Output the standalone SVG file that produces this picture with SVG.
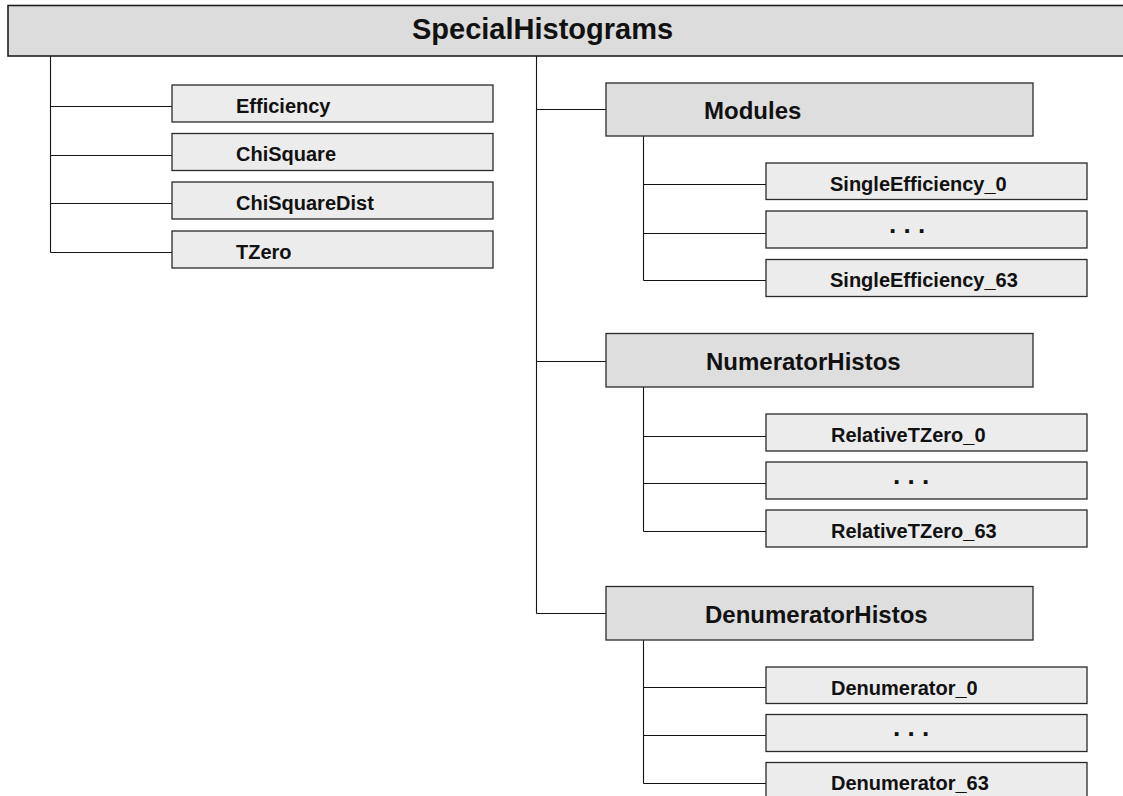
<svg xmlns="http://www.w3.org/2000/svg" width="1123" height="796" viewBox="0 0 1123 796">
  <style>
    .root { fill: #dcdcdc; stroke: #1e1e1e; stroke-width: 1.6; }
    .group { fill: #dedede; stroke: #2a2a2a; stroke-width: 1.3; }
    .leaf { fill: #ececec; stroke: #2a2a2a; stroke-width: 1.3; }
    text { font-family: "Liberation Sans", Arial, sans-serif; font-weight: bold; fill: #111; }
    .t-root { font-size: 29px; }
    .t-group { font-size: 24px; }
    .t-leaf { font-size: 20px; }
    .t-dots { font-size: 26px; }
    .wire { fill: none; stroke: #141414; stroke-width: 1.1; }
  </style>

  <rect width="1123" height="796" fill="#ffffff"/>

  <!-- connectors -->
  <g id="connectors" class="wire">
    <!-- root trunk to the left leaves -->
    <path d="M50.5 56 V252.5"/>
    <path d="M50.5 106.5 H172"/>
    <path d="M50.5 155.5 H172"/>
    <path d="M50.5 203.5 H172"/>
    <path d="M50.5 252.5 H172"/>
    <!-- root trunk to the sub folders -->
    <path d="M536.5 56 V613.5"/>
    <path d="M536.5 109.5 H606"/>
    <path d="M536.5 361.5 H606"/>
    <path d="M536.5 613.5 H606"/>
    <!-- Modules children -->
    <path d="M643.5 136 V280.5"/>
    <path d="M643.5 184.5 H766"/>
    <path d="M643.5 233.5 H766"/>
    <path d="M643.5 280.5 H766"/>
    <!-- NumeratorHistos children -->
    <path d="M643.5 387 V531.5"/>
    <path d="M643.5 436.5 H766"/>
    <path d="M643.5 483.5 H766"/>
    <path d="M643.5 531.5 H766"/>
    <!-- DenumeratorHistos children -->
    <path d="M643.5 640 V783.5"/>
    <path d="M643.5 687.5 H766"/>
    <path d="M643.5 735.5 H766"/>
    <path d="M643.5 783.5 H766"/>
  </g>

  <!-- root -->
  <g id="SpecialHistograms">
    <rect class="root" x="8" y="5.5" width="1130" height="50.5"/>
    <text class="t-root" x="412" y="39">SpecialHistograms</text>
  </g>

  <!-- left leaves -->
  <g id="Efficiency">
    <rect class="leaf" x="172" y="85" width="321" height="37"/>
    <text class="t-leaf" x="236" y="112.5">Efficiency</text>
  </g>
  <g id="ChiSquare">
    <rect class="leaf" x="172" y="133.5" width="321" height="37"/>
    <text class="t-leaf" x="236" y="161">ChiSquare</text>
  </g>
  <g id="ChiSquareDist">
    <rect class="leaf" x="172" y="182" width="321" height="37"/>
    <text class="t-leaf" x="236" y="209.5">ChiSquareDist</text>
  </g>
  <g id="TZero">
    <rect class="leaf" x="172" y="231" width="321" height="37"/>
    <text class="t-leaf" x="236" y="258.5">TZero</text>
  </g>

  <!-- Modules -->
  <g id="Modules">
    <rect class="group" x="606" y="83" width="427" height="53"/>
    <text class="t-group" x="704" y="119">Modules</text>
  </g>
  <g id="SingleEfficiency_0">
    <rect class="leaf" x="766" y="163" width="321" height="36.5"/>
    <text class="t-leaf" x="830" y="190.5">SingleEfficiency_0</text>
  </g>
  <g id="SingleEfficiency_dots">
    <rect class="leaf" x="766" y="211" width="321" height="37"/>
    <text class="t-dots" x="889" y="232.5">. . .</text>
  </g>
  <g id="SingleEfficiency_63">
    <rect class="leaf" x="766" y="259.5" width="321" height="37"/>
    <text class="t-leaf" x="830" y="287">SingleEfficiency_63</text>
  </g>

  <!-- NumeratorHistos -->
  <g id="NumeratorHistos">
    <rect class="group" x="606" y="333.5" width="427" height="53.5"/>
    <text class="t-group" x="706" y="370">NumeratorHistos</text>
  </g>
  <g id="RelativeTZero_0">
    <rect class="leaf" x="766" y="414" width="321" height="37"/>
    <text class="t-leaf" x="831" y="441.5">RelativeTZero_0</text>
  </g>
  <g id="RelativeTZero_dots">
    <rect class="leaf" x="766" y="462" width="321" height="37"/>
    <text class="t-dots" x="893" y="483.5">. . .</text>
  </g>
  <g id="RelativeTZero_63">
    <rect class="leaf" x="766" y="510" width="321" height="37"/>
    <text class="t-leaf" x="831" y="537.5">RelativeTZero_63</text>
  </g>

  <!-- DenumeratorHistos -->
  <g id="DenumeratorHistos">
    <rect class="group" x="606" y="586.5" width="427" height="53.5"/>
    <text class="t-group" x="705" y="623">DenumeratorHistos</text>
  </g>
  <g id="Denumerator_0">
    <rect class="leaf" x="766" y="667" width="321" height="36.5"/>
    <text class="t-leaf" x="831" y="694.5">Denumerator_0</text>
  </g>
  <g id="Denumerator_dots">
    <rect class="leaf" x="766" y="714.5" width="321" height="37"/>
    <text class="t-dots" x="893" y="736">. . .</text>
  </g>
  <g id="Denumerator_63">
    <rect class="leaf" x="766" y="762.5" width="321" height="40"/>
    <text class="t-leaf" x="831" y="790">Denumerator_63</text>
  </g>
</svg>
